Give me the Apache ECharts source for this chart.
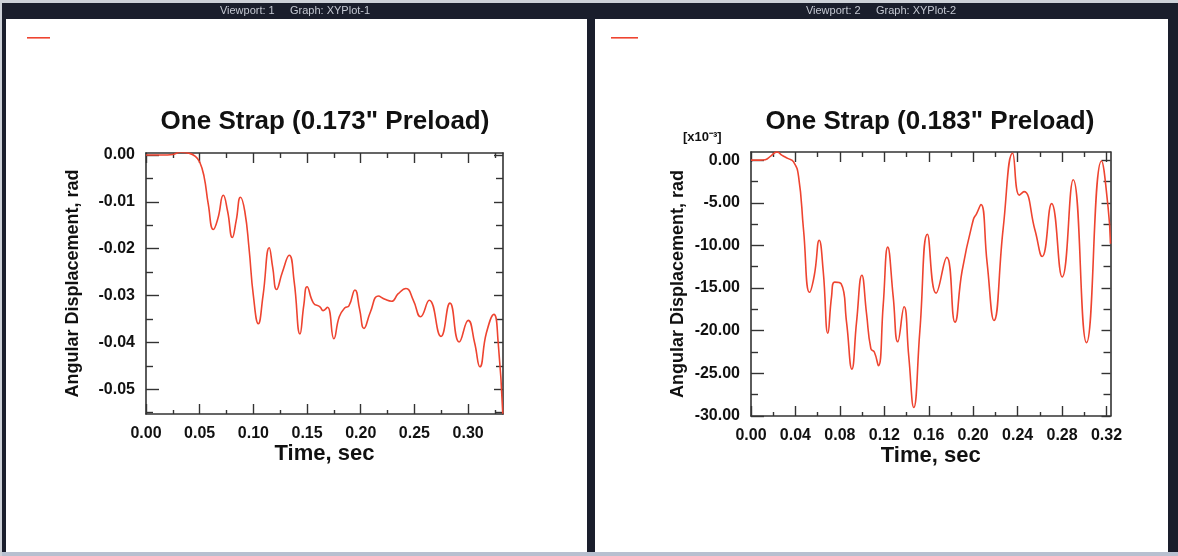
<!DOCTYPE html>
<html><head><meta charset="utf-8">
<script src="https://cdn.jsdelivr.net/npm/echarts@6/dist/echarts.min.js"></script>
<style>html,body{margin:0;padding:0;background:#1a1e2c;}#c{width:1178px;height:556px;}</style>
</head><body><div id="c"></div>
<script>
// ---- data (left plot: rad, right plot: x10^-3 rad) ----
const leftTime = [0.000,0.010,0.020,0.025,0.032,0.040,0.046,0.050,0.054,0.058,0.0627,0.067,0.072,0.076,0.0804,0.084,0.088,0.092,0.096,0.100,0.1046,0.109,0.1148,0.118,0.1216,0.127,0.1334,0.138,0.1434,0.147,0.150,0.156,0.162,0.165,0.169,0.175,0.180,0.1853,0.189,0.1946,0.199,0.203,0.209,0.2163,0.2225,0.2287,0.2349,0.2421,0.249,0.2557,0.2638,0.2747,0.2831,0.2917,0.3001,0.306,0.311,0.317,0.324,0.328,0.3323];
const leftDisp = [0.0000,0.0000,0.0000,0.0001,0.0006,0.0004,-0.0003,-0.0015,-0.0045,-0.0105,-0.0159,-0.0135,-0.0086,-0.0120,-0.0176,-0.0140,-0.0090,-0.0120,-0.0200,-0.0300,-0.0360,-0.0300,-0.0198,-0.0240,-0.0287,-0.0250,-0.0214,-0.0270,-0.0382,-0.0320,-0.0281,-0.0316,-0.0324,-0.0332,-0.0325,-0.0392,-0.0345,-0.0326,-0.0322,-0.0288,-0.0330,-0.0370,-0.0335,-0.0301,-0.0308,-0.0312,-0.0296,-0.0285,-0.0310,-0.0345,-0.0310,-0.0387,-0.0316,-0.0399,-0.0353,-0.0400,-0.0452,-0.0380,-0.0340,-0.0400,-0.0552];
const rightTime = [0.000,0.008,0.0128,0.018,0.0234,0.028,0.033,0.0383,0.0428,0.0473,0.0527,0.057,0.0614,0.065,0.0692,0.0725,0.0752,0.0812,0.086,0.0908,0.095,0.0998,0.104,0.1079,0.111,0.1147,0.119,0.1231,0.128,0.1321,0.1378,0.142,0.1465,0.152,0.1588,0.1666,0.1762,0.1836,0.190,0.2001,0.203,0.207,0.2125,0.2187,0.227,0.2355,0.2415,0.2457,0.2556,0.2621,0.2706,0.2801,0.2900,0.302,0.3155,0.3214,0.3236];
const rightDisp = [0.0,0.0,0.05,0.5,0.97,0.55,0.2,-0.2,-1.9,-8.2,-15.5,-13.5,-9.4,-13.0,-20.3,-16.0,-14.3,-14.5,-19.0,-24.5,-19.0,-13.5,-18.0,-22.1,-22.5,-24.1,-17.0,-10.2,-16.0,-21.3,-17.2,-23.0,-29.0,-20.0,-8.7,-15.6,-11.4,-19.0,-13.0,-7.0,-6.3,-5.2,-12.0,-18.8,-8.0,0.8,-4.1,-3.7,-8.2,-11.3,-5.1,-13.7,-2.3,-21.4,-0.1,-5.5,-9.8];

const leftXTicks = [0,0.05,0.10,0.15,0.20,0.25,0.30];
const leftXMinor = [0.025,0.075,0.125,0.175,0.225,0.275,0.325];
const leftYTicks = [0,-0.01,-0.02,-0.03,-0.04,-0.05];
const leftYMinor = [-0.005,-0.015,-0.025,-0.035,-0.045,-0.055];
const rightXTicks = [0,0.04,0.08,0.12,0.16,0.20,0.24,0.28,0.32];
const rightXMinor = [0.02,0.06,0.10,0.14,0.18,0.22,0.26,0.30];
const rightYTicks = [0,-5,-10,-15,-20,-25,-30];
const rightYMinor = [-2.5,-7.5,-12.5,-17.5,-22.5,-27.5];

const titles = ['One Strap (0.173" Preload)', 'One Strap (0.183" Preload)'];
const xName = 'Time, sec';
const yName = 'Angular Displacement, rad';
const headers = ['Viewport: 1     Graph: XYPlot-1', 'Viewport: 2     Graph: XYPlot-2'];

const FONT = '"Liberation Sans", Arial, Helvetica, sans-serif';
const AX = '#333333';
const RED = '#ee4430';

function xAxes(gi, max, majors, minors, fmt) {
  const base = {gridIndex: gi, type: 'value', min: 0, max: max, splitLine: {show: false}};
  const line = {show: true, onZero: false, lineStyle: {color: AX, width: 1.6}};
  const noLine = {show: false, onZero: false};
  return [
    Object.assign({}, base, {position: 'bottom', axisLine: line,
      axisTick: {show: true, inside: true, length: 10, customValues: majors, lineStyle: {color: AX, width: 1.4}},
      axisLabel: {show: true, customValues: majors, formatter: v => v.toFixed(fmt), margin: 12,
        fontFamily: FONT, fontWeight: 'bold', fontSize: 16, color: '#111'},
      name: xName, nameLocation: 'middle', nameGap: 29,
      nameTextStyle: {fontFamily: FONT, fontWeight: 'bold', fontSize: 22, color: '#111'}}),
    Object.assign({}, base, {position: 'bottom', axisLine: noLine,
      axisTick: {show: true, inside: true, length: 4, customValues: minors, lineStyle: {color: AX, width: 1.4}},
      axisLabel: {show: false}}),
    Object.assign({}, base, {position: 'top', axisLine: line,
      axisTick: {show: true, inside: true, length: 10, customValues: majors, lineStyle: {color: AX, width: 1.4}},
      axisLabel: {show: false}}),
    Object.assign({}, base, {position: 'top', axisLine: noLine,
      axisTick: {show: true, inside: true, length: 5, customValues: minors, lineStyle: {color: AX, width: 1.4}},
      axisLabel: {show: false}})
  ];
}
function yAxes(gi, min, max, majors, minors, fmt) {
  const base = {gridIndex: gi, type: 'value', min: min, max: max, splitLine: {show: false}};
  const line = {show: true, onZero: false, lineStyle: {color: AX, width: 1.6}};
  const noLine = {show: false, onZero: false};
  return [
    Object.assign({}, base, {position: 'left', axisLine: line,
      axisTick: {show: true, inside: true, length: 13, customValues: majors, lineStyle: {color: AX, width: 1.4}},
      axisLabel: {show: true, customValues: majors, formatter: v => v.toFixed(fmt), margin: 11,
        fontFamily: FONT, fontWeight: 'bold', fontSize: 16, color: '#111'},
      name: yName, nameLocation: 'middle', nameGap: 64, nameRotate: 90,
      nameTextStyle: {fontFamily: FONT, fontWeight: 'bold', fontSize: 18, color: '#111'}}),
    Object.assign({}, base, {position: 'left', axisLine: noLine,
      axisTick: {show: true, inside: true, length: 7, customValues: minors, lineStyle: {color: AX, width: 1.4}},
      axisLabel: {show: false}}),
    Object.assign({}, base, {position: 'right', axisLine: line,
      axisTick: {show: true, inside: true, length: 9, customValues: majors, lineStyle: {color: AX, width: 1.4}},
      axisLabel: {show: false}}),
    Object.assign({}, base, {position: 'right', axisLine: noLine,
      axisTick: {show: true, inside: true, length: 7, customValues: minors, lineStyle: {color: AX, width: 1.4}},
      axisLabel: {show: false}})
  ];
}

const leftData = leftTime.map((t, i) => [t, leftDisp[i]]);
const rightData = rightTime.map((t, i) => [t, rightDisp[i]]);

const chart = echarts.init(document.getElementById('c'), null, {renderer: 'canvas'});
chart.setOption({
  backgroundColor: 'transparent',
  animation: false,
  graphic: [
    {type: 'rect', z: -20, shape: {x: 0, y: 0, width: 1178, height: 3}, style: {fill: '#cdd1d8'}},
    {type: 'rect', z: -20, shape: {x: 0, y: 552, width: 1178, height: 4}, style: {fill: '#b8c0d0'}},
    {type: 'rect', z: -20, shape: {x: 0, y: 0, width: 2, height: 556}, style: {fill: '#cdd1d8'}},
    {type: 'rect', z: -10, shape: {x: 6, y: 19, width: 581, height: 533}, style: {fill: '#ffffff'}},
    {type: 'rect', z: -10, shape: {x: 595, y: 19, width: 573, height: 533}, style: {fill: '#ffffff'}},
    {type: 'text', x: 295, y: 11, style: {text: headers[0], fill: '#c4c8d2', font: '11px ' + FONT, align: 'center', verticalAlign: 'middle'}},
    {type: 'text', x: 881, y: 11, style: {text: headers[1], fill: '#c4c8d2', font: '11px ' + FONT, align: 'center', verticalAlign: 'middle'}},
    {type: 'text', x: 683, y: 131, style: {text: '[x10\u207B\u00B3]', fill: '#111', font: 'bold 13px ' + FONT, align: 'left', verticalAlign: 'top'}}
  ],
  title: [
    {text: titles[0], left: 320, top: 104, textAlign: 'center',
      textStyle: {fontFamily: FONT, fontWeight: 'bold', fontSize: 26, color: '#111'}},
    {text: titles[1], left: 925, top: 104, textAlign: 'center',
      textStyle: {fontFamily: FONT, fontWeight: 'bold', fontSize: 26, color: '#111'}}
  ],
  legend: [
    {data: ['Curve 1'], left: 27, top: 37, padding: 0, icon: 'rect', itemWidth: 23, itemHeight: 1.6, itemGap: 0,
      formatter: () => '', selectedMode: false, itemStyle: {color: RED}},
    {data: ['Curve 2'], left: 611, top: 37, padding: 0, icon: 'rect', itemWidth: 27, itemHeight: 1.6, itemGap: 0,
      formatter: () => '', selectedMode: false, itemStyle: {color: RED}}
  ],
  grid: [
    {left: 146, top: 153, width: 357, height: 261, containLabel: false},
    {left: 751, top: 152, width: 359.5, height: 264, containLabel: false}
  ],
  xAxis: [].concat(xAxes(0, 0.3325, leftXTicks, leftXMinor, 2), xAxes(1, 0.3236, rightXTicks, rightXMinor, 2)),
  yAxis: [].concat(yAxes(0, -0.05527, 0.00043, leftYTicks, leftYMinor, 2), yAxes(1, -30, 0.95, rightYTicks, rightYMinor, 2)),
  series: [
    {name: 'Curve 1', type: 'line', xAxisIndex: 0, yAxisIndex: 0, data: leftData, showSymbol: false, symbol: 'none',
      smooth: 0.5, lineStyle: {color: RED, width: 1.6}, itemStyle: {color: RED}},
    {name: 'Curve 2', type: 'line', xAxisIndex: 4, yAxisIndex: 4, data: rightData, showSymbol: false, symbol: 'none',
      smooth: 0.5, lineStyle: {color: RED, width: 1.6}, itemStyle: {color: RED}}
  ]
});
</script>
</body></html>
